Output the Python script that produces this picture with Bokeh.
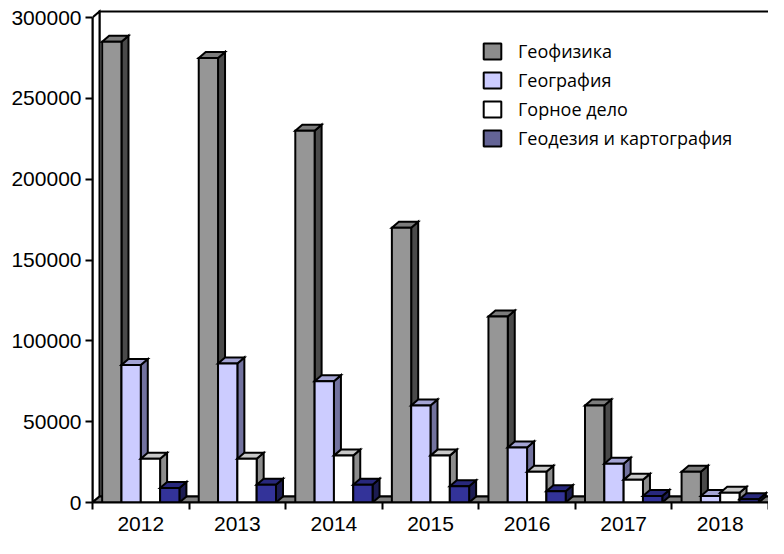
from bokeh.plotting import figure
from bokeh.models import Range1d, FixedTicker, Legend, LegendItem, NumeralTickFormatter
from bokeh.embed import file_html
from bokeh.resources import INLINE

# ---------------- data ----------------
years = ["2012", "2013", "2014", "2015", "2016", "2017", "2018"]
series_names = ["Геофизика", "География", "Горное дело", "Геодезия и картография"]
geofizika = [285000, 275000, 230000, 170000, 115000, 60000, 19000]
geografiya = [85000, 86000, 75000, 60000, 34000, 24000, 4000]
gornoe_delo = [27000, 27000, 29000, 29000, 19000, 14000, 6000]
geodeziya = [9000, 11000, 11000, 10000, 7000, 4000, 2000]
y_ticks = [0, 50000, 100000, 150000, 200000, 250000, 300000]

series_values = [geofizika, geografiya, gornoe_delo, geodeziya]

# ---------------- styles ----------------
front_colors = ["#969696", "#ccccff", "#ffffff", "#333399"]
top_colors = ["#7c7c7c", "#a4a4d4", "#c8c8c8", "#28287c"]
side_colors = ["#4a4a4a", "#72729e", "#8c8c8c", "#1c1c52"]
legend_colors = ["#8c8c8c", "#ccccff", "#ffffff", "#646496"]

FW, FH = 676, 494
TOP_GAP = 9                  # px between frame top and the highest tick
n_cat = len(years)
y_max = y_ticks[-1]
y_end = y_max * FH / (FH - TOP_GAP)
DX = 7 * n_cat / FW          # depth offset in data units (x)
DY = 6 * y_end / FH          # depth offset in data units (y)
BAR_W = 0.2
GROUP_PAD = 0.1
NAN = float("nan")

p = figure(frame_width=FW, frame_height=FH,
           min_border_left=92, min_border_right=0, min_border_top=8, min_border_bottom=36,
           x_range=Range1d(0, n_cat), y_range=Range1d(0, y_end),
           output_backend="svg", toolbar_location=None,
           outline_line_alpha=0, background_fill_color="white")
p.grid.visible = False

# walls and floor
p.patches(xs=[[DX, n_cat + DX + 1, n_cat + DX + 1, DX]],
          ys=[[DY, DY, y_max + DY, y_max + DY]],
          fill_color="white", line_color="black", line_width=2, line_join="miter")
p.patches(xs=[[0, DX, DX, 0]], ys=[[0, DY, y_max + DY, y_max]],
          fill_color="white", line_color="black", line_width=2, line_join="miter")
p.patches(xs=[[0, n_cat + 1, n_cat + 1 + DX, DX]], ys=[[0, 0, DY, DY]],
          fill_color="#808080", line_color="black", line_width=2, line_join="miter")

# 3D bars
for s, vals in enumerate(series_values):
    x0s = [i + GROUP_PAD + s * BAR_W for i in range(n_cat)]
    x1s = [x + BAR_W for x in x0s]
    side_xs, side_ys, top_xs, top_ys = [], [], [], []
    for x0, x1, v in zip(x0s, x1s, vals):
        side_xs.append([x1, x1 + DX, x1 + DX, x1])
        side_ys.append([0, DY, v + DY, v])
        top_xs.append([x0, x0 + DX, x1 + DX, x1])
        top_ys.append([v, v + DY, v + DY, v])
    p.patches(xs=side_xs, ys=side_ys, fill_color=side_colors[s], line_color="black",
              line_width=2, line_join="miter")
    p.patches(xs=top_xs, ys=top_ys, fill_color=top_colors[s], line_color="black",
              line_width=2, line_join="miter")
    p.quad(left=x0s, right=x1s, bottom=[0] * n_cat, top=vals, fill_color=front_colors[s],
           line_color="black", line_width=2, line_join="miter")

# axes
yax = p.yaxis[0]
yax.ticker = FixedTicker(ticks=y_ticks)
yax.formatter = NumeralTickFormatter(format="0")
yax.bounds = (0, y_max)
yax.axis_line_width = 2
yax.major_tick_line_width = 2
yax.major_tick_out = 7
yax.major_tick_in = 0
yax.minor_tick_out = 0
yax.minor_tick_in = 0
yax.major_label_standoff = 4
yax.major_label_text_font = "Liberation Sans"
yax.major_label_text_font_size = "21px"
yax.major_label_text_color = "black"

xax = p.xaxis[0]
centers = [i + 0.5 for i in range(n_cat)]
xax.ticker = FixedTicker(ticks=centers, minor_ticks=list(range(n_cat + 1)))
xax.major_label_overrides = {c: y for c, y in zip(centers, years)}
xax.axis_line_width = 2
xax.major_tick_out = 0
xax.major_tick_in = 0
xax.minor_tick_out = 7
xax.minor_tick_in = 0
xax.minor_tick_line_width = 2
xax.minor_tick_line_color = "black"
xax.major_label_standoff = 7
xax.major_label_text_font = "Liberation Sans"
xax.major_label_text_font_size = "21px"
xax.major_label_text_color = "black"

# legend (swatch renderers hold no visible data)
items = []
for s, name in enumerate(series_names):
    r = p.quad(left=[NAN], right=[NAN], bottom=[NAN], top=[NAN], fill_color=legend_colors[s],
               line_color="black", line_width=2)
    items.append(LegendItem(label=name, renderers=[r]))
legend = Legend(items=items, location=(389, 352), glyph_width=22, glyph_height=20,
                label_height=18, spacing=5, padding=0, margin=0, label_standoff=15,
                label_text_font="Open Sans", label_text_font_size="18px",
                label_text_color="black", border_line_alpha=0, background_fill_alpha=0)
p.add_layout(legend)

open("out.html", "w").write(file_html(p, INLINE))
